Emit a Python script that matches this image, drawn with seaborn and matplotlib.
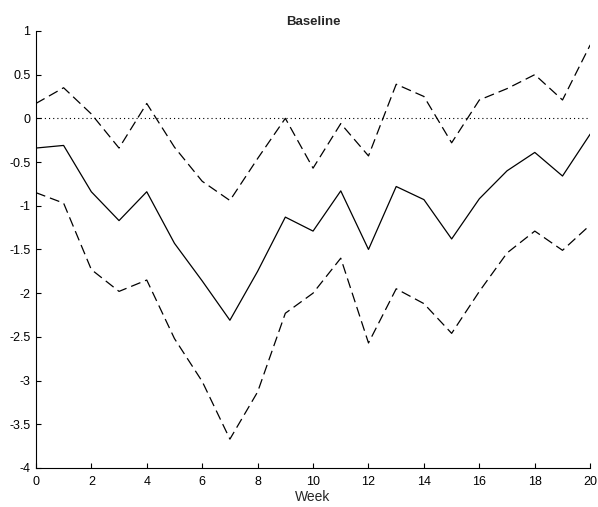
import matplotlib
matplotlib.use("Agg")
import matplotlib.pyplot as plt
import seaborn as sns
import pandas as pd

weeks = list(range(21))
estimate = [-0.34, -0.31, -0.84, -1.17, -0.84, -1.43, -1.86, -2.31, -1.75, -1.13,
            -1.29, -0.83, -1.50, -0.78, -0.93, -1.38, -0.92, -0.60, -0.39, -0.66, -0.18]
upper = [0.17, 0.35, 0.05, -0.34, 0.17, -0.33, -0.72, -0.94, -0.46, 0.00,
         -0.57, -0.06, -0.43, 0.39, 0.25, -0.28, 0.21, 0.34, 0.50, 0.21, 0.84]
lower = [-0.85, -0.97, -1.73, -1.98, -1.85, -2.52, -3.01, -3.67, -3.13, -2.23,
         -2.00, -1.60, -2.57, -1.95, -2.12, -2.46, -1.98, -1.54, -1.29, -1.51, -1.22]

sns.set_theme(style="ticks")
plt.rcParams["font.family"] = ["Liberation Sans", "DejaVu Sans"]
plt.rcParams["lines.scale_dashes"] = False

df = pd.DataFrame({"Week": weeks, "estimate": estimate, "upper": upper, "lower": lower})

fig = plt.figure(figsize=(5.98, 5.07), dpi=100)
ax = fig.add_axes([0.060, 0.077, 0.927, 0.862])

sns.lineplot(data=df, x="Week", y="estimate", color="black", linewidth=0.9, ax=ax)
sns.lineplot(data=df, x="Week", y="upper", color="black", linewidth=0.9,
             ax=ax).lines[-1].set_dashes((7.2, 3.6))
sns.lineplot(data=df, x="Week", y="lower", color="black", linewidth=0.9,
             ax=ax).lines[-1].set_dashes((7.2, 3.6))
ax.plot([0, 20], [0, 0], color="black", linewidth=0.8, linestyle=(0, (0.8, 2.2)))

ax.set_xlim(0, 20)
ax.set_ylim(-4, 1)
ax.set_xticks(range(0, 21, 2))
ax.set_yticks([-4, -3.5, -3, -2.5, -2, -1.5, -1, -0.5, 0, 0.5, 1])
ax.set_yticklabels(["-4", "-3.5", "-3", "-2.5", "-2", "-1.5", "-1", "-0.5", "0", "0.5", "1"])
ax.tick_params(direction="in", length=3.6, width=0.8, labelsize=9, pad=4, colors="black")
ax.tick_params(axis="x", pad=6)
for side in ("top", "right"):
    ax.spines[side].set_visible(False)
for side in ("left", "bottom"):
    ax.spines[side].set_linewidth(0.8)
    ax.spines[side].set_color("black")

ax.set_xlabel("Week", fontsize=10, labelpad=1)
ax.set_ylabel("")
ax.set_title("Baseline", fontsize=9.5, fontweight="bold", pad=4)

fig.savefig("out.png", dpi=100)
